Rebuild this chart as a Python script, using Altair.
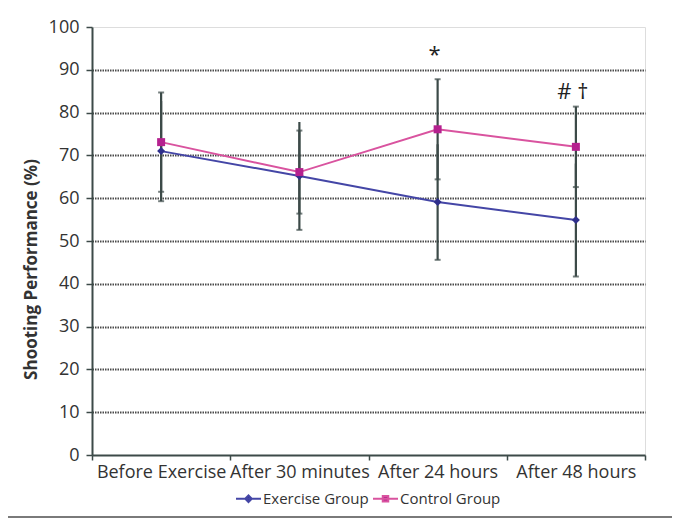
import altair as alt
import pandas as pd

categories = ["Before Exercise", "After 30 minutes", "After 24 hours", "After 48 hours"]
groups = ["Exercise Group", "Control Group"]
exercise_mean = [71.0, 65.2, 59.1, 54.9]
exercise_sd = [11.7, 12.6, 13.5, 13.2]
control_mean = [73.1, 66.1, 76.1, 72.0]
control_sd = [11.6, 9.7, 11.7, 9.4]
annot_cat = ["After 24 hours", "After 48 hours"]
annot_val = [93.5, 84.8]
annot_txt = ["*", "# \u2020"]
y_ticks = [0, 10, 20, 30, 40, 50, 60, 70, 80, 90, 100]

FONT = "Open Sans"
line_colors = {"Exercise Group": "#4446a6", "Control Group": "#d9539f"}
marker_colors = {"Exercise Group": "#2f2f8c", "Control Group": "#b5218f"}
marker_shapes = {"Exercise Group": "diamond", "Control Group": "square"}

rows = []
for g, means, sds in [("Exercise Group", exercise_mean, exercise_sd),
                      ("Control Group", control_mean, control_sd)]:
    for c, m, s in zip(categories, means, sds):
        rows.append({"category": c, "group": g, "mean": m, "sd": s,
                     "low": m - s, "high": m + s})
df = pd.DataFrame(rows)

caps = []
for r in rows:
    caps.append({"category": r["category"], "value": r["low"]})
    if r["group"] == "Control Group":
        caps.append({"category": r["category"], "value": r["high"]})
caps_df = pd.DataFrame(caps)

annot_df = pd.DataFrame({"category": annot_cat, "value": annot_val, "label": annot_txt})

xenc = alt.X("category:N", sort=categories,
             scale=alt.Scale(paddingInner=0, paddingOuter=0),
             axis=alt.Axis(title=None, labelAngle=0, labelFont=FONT, labelFontSize=18,
                           labelColor="#333333", labelPadding=3, tickBand="extent",
                           tickSize=5, tickColor="#3c4a48", tickWidth=1.5,
                           domainColor="#3c4a48", domainWidth=2, grid=False))

yscale = alt.Scale(domain=[0, 100], nice=False)
yaxis = alt.Axis(title="Shooting Performance (%)", values=y_ticks,
                 labelFont=FONT, labelFontSize=18, labelColor="#333333", labelPadding=7,
                 tickSize=6, tickColor="#3c4a48", tickWidth=1.5,
                 domainColor="#3c4a48", domainWidth=2,
                 titleFont=FONT, titleFontSize=17, titleFontWeight="bold", titleColor="#333333",
                 titleAngle=-90, titleX=-61, titleY=242, titleAlign="center",
                 titleBaseline="middle",
                 grid=True, gridColor="#4a4a4a", gridWidth=2, gridDash=[1.5, 1],
                 gridOpacity={"condition": {"test": "datum.value == 100 || datum.value == 0",
                                            "value": 0}, "value": 1})

base = alt.Chart(df)

bars = base.mark_rule(color="#3c4a48", strokeWidth=2.2).encode(
    x=xenc, y=alt.Y("low:Q", scale=yscale, axis=yaxis), y2="high:Q")

capmarks = alt.Chart(caps_df).mark_tick(color="#3c4a48", size=6, thickness=2).encode(
    x=alt.X("category:N", sort=categories), y=alt.Y("value:Q"))

layers = [bars, capmarks]
for g in groups:
    layers.append(base.transform_filter(alt.datum.group == g).mark_line(
        color=line_colors[g], strokeWidth=2).encode(
        x=alt.X("category:N", sort=categories), y="mean:Q"))
for g in groups:
    layers.append(base.transform_filter(alt.datum.group == g).mark_point(
        filled=True, color=marker_colors[g], shape=marker_shapes[g], size=64, opacity=1).encode(
        x=alt.X("category:N", sort=categories), y="mean:Q"))

legend = alt.Legend(title=None, orient="none", legendX=143, legendY=458, direction="horizontal",
                    labelFont=FONT, labelFontSize=15, labelColor="#333333",
                    symbolSize=625, symbolStrokeWidth=2, symbolOpacity=1,
                    columnPadding=0, labelOffset=1)
path_diamond = "M-1,0H1M-0.26,0L0,-0.26L0.26,0L0,0.26Z"
path_square = "M-1,0H1M-0.22,-0.22H0.22V0.22H-0.22Z"
legend_layer = base.mark_point(filled=True, opacity=0).encode(
    x=alt.X("category:N", sort=categories), y="mean:Q",
    fill=alt.Fill("group:N", scale=alt.Scale(domain=groups, range=[marker_colors[g] for g in groups]),
                  legend=legend),
    stroke=alt.Stroke("group:N", scale=alt.Scale(domain=groups, range=[line_colors[g] for g in groups]),
                      legend=legend),
    shape=alt.Shape("group:N", scale=alt.Scale(domain=groups, range=[path_diamond, path_square]),
                    legend=legend))
layers.append(legend_layer)

annots = alt.Chart(annot_df).mark_text(font=FONT, fontSize=22, color="#222222",
                                        baseline="middle", dx=-3).encode(
    x=alt.X("category:N", sort=categories), y="value:Q", text="label:N")
layers.append(annots)

# thin grey frame line along the bottom edge of the figure
separator = alt.Chart(pd.DataFrame({"k": [0]})).mark_rule(color="#7a7a7a", strokeWidth=2).encode(
    x=alt.value(-92), x2=alt.value(600), y=alt.value(490))
layers.append(separator)

chart = alt.layer(*layers).properties(
    width=553, height=428,
    autosize=alt.AutoSizeParams(type="none"),
    padding={"left": 84, "top": 19, "right": 27, "bottom": 64},
).configure_view(stroke=None).configure(background="white")

chart.save("out.html", embed_options={"renderer": "svg", "actions": False})
